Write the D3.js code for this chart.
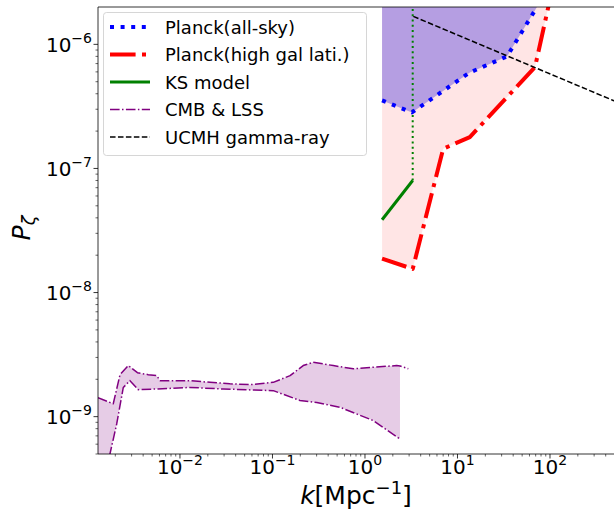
<!DOCTYPE html>
<html><head><meta charset="utf-8">
<script src="https://cdn.jsdelivr.net/npm/d3@7/dist/d3.min.js"></script>
<style>body{margin:0;background:#fff}svg{display:block;font-family:"DejaVu Sans",sans-serif}</style>
</head><body><svg id="c" width="614" height="512"></svg>
<script>
// ---- data (k in Mpc^-1, P_zeta) ----
const planckAllSkyK = [1.53, 3.22, 13.6, 34.3, 72.3, 100];
const planckAllSkyP = [3.53e-7, 2.83e-7, 5.94e-7, 8.0e-7, 2.0e-6, 4.5e-6];
const planckHighK = [1.53, 3.28, 7.0, 13.6, 68.9, 95.9, 110];
const planckHighP = [1.88e-8, 1.55e-8, 1.44e-7, 1.79e-7, 6.56e-7, 2.0e-6, 4.0e-6];
const ksK = [1.53, 3.28];
const ksP = [3.86e-8, 8.0e-8];
const ksBoundK = [3.28, 3.28];
const ksBoundP = [8.0e-8, 1e-5];
const ucmhK = [3.33, 483, 1000];
const ucmhP = [1.68e-6, 3.53e-7, 2.81e-7];
const cmbUpperK = [1.30e-3, 1.90e-3, 2.25e-3, 2.76e-3, 3.47e-3, 4.54e-3, 5.60e-3, 6.08e-3, 1.28e-2, 2.11e-2, 3.47e-2, 5.71e-2, 0.102, 0.155, 0.215, 0.276, 0.454, 0.748, 1.23, 2.20, 2.39, 2.94];
const cmbUpperP = [1.42e-9, 1.27e-9, 2.18e-9, 2.58e-9, 2.26e-9, 2.18e-9, 2.14e-9, 1.95e-9, 1.95e-9, 1.89e-9, 1.84e-9, 1.81e-9, 1.89e-9, 2.14e-9, 2.58e-9, 2.74e-9, 2.58e-9, 2.43e-9, 2.50e-9, 2.58e-9, 2.56e-9, 2.43e-9];
const cmbLowerK = [1.30e-3, 1.75e-3, 2.07e-3, 2.44e-3, 2.88e-3, 3.54e-3, 5.60e-3, 1.28e-2, 2.94e-2, 0.102, 0.198, 0.301, 0.537, 1.23, 2.39];
const cmbLowerP = [1.5e-10, 5.0e-10, 8.73e-10, 1.72e-9, 1.95e-9, 1.65e-9, 1.67e-9, 1.72e-9, 1.67e-9, 1.62e-9, 1.35e-9, 1.30e-9, 1.19e-9, 9.29e-10, 6.6e-10];
const xTickVals = [1e-2, 1e-1, 1, 10, 100];
const xTickExp = ["\u22122", "\u22121", "0", "1", "2"];
const yTickVals = [1e-9, 1e-8, 1e-7, 1e-6];
const yTickExp = ["\u22129", "\u22128", "\u22127", "\u22126"];
const legendLabels = ["Planck(all-sky)", "Planck(high gal lati.)", "KS model", "CMB & LSS", "UCMH gamma-ray"];
const fillTop = 1e-5;

const svg = d3.select("#c");
const L = 98, T = 7, B = 454;
const x = d3.scaleLog().domain([1.30e-3, 1000]).range([L, 642.5]);
const y = d3.scaleLog().domain([5e-10, 2e-6]).range([B, T]);

svg.append("defs").append("clipPath").attr("id","clip")
  .append("rect").attr("x",L).attr("y",T).attr("width",700).attr("height",B-T);
const g = svg.append("g").attr("clip-path","url(#clip)");
const zip = (ks, ps) => ks.map((k,i)=>[k, ps[i]]);
const line = d3.line().x(d=>x(d[0])).y(d=>y(d[1]));

// CMB & LSS fill
const kmaxLow = cmbLowerK[cmbLowerK.length-1];
const upFill = zip(cmbUpperK, cmbUpperP).filter(d=>d[0] <= kmaxLow);
const cmbPoly = upFill.concat(zip(cmbLowerK, cmbLowerP).reverse());
g.append("path").attr("d", line(cmbPoly)+"Z").attr("fill","purple").attr("fill-opacity",0.2);

// Planck high fill (pink)
const hi = zip(planckHighK, planckHighP);
const hiPoly = hi.concat([[hi[hi.length-1][0], fillTop],[hi[0][0], fillTop]]);
g.append("path").attr("d", line(hiPoly)+"Z").attr("fill","red").attr("fill-opacity",0.1);
// Planck all-sky fill (purple)
const al = zip(planckAllSkyK, planckAllSkyP);
const alPoly = al.concat([[al[al.length-1][0], fillTop],[al[0][0], fillTop]]);
g.append("path").attr("d", line(alPoly)+"Z").attr("fill","rgb(181,158,226)");

// lines
const drawLine = (data, color, w, dash) => g.append("path").attr("d", line(data))
  .attr("fill","none").attr("stroke",color).attr("stroke-width",w)
  .attr("stroke-dasharray", dash || null).attr("stroke-linejoin","round");
drawLine(zip(cmbUpperK, cmbUpperP), "purple", 1.5, "9.6,2.4,1.5,2.4");
drawLine(zip(cmbLowerK, cmbLowerP), "purple", 1.5, "9.6,2.4,1.5,2.4");
drawLine(zip(ksBoundK, ksBoundP), "green", 2, "2,3.3");
drawLine(zip(ksK, ksP), "green", 3);
drawLine(al, "blue", 4, "4,6.6");
drawLine(hi, "red", 4, "25.6,6.4,4,6.4");
drawLine(zip(ucmhK, ucmhP), "black", 1.5, "5.55,2.4");

// axes / spines
const ax = svg.append("g");
ax.append("line").attr("x1",L).attr("x2",L).attr("y1",T).attr("y2",B).attr("stroke","#000").attr("stroke-width",0.8);
ax.append("line").attr("x1",L).attr("x2",614).attr("y1",B).attr("y2",B).attr("stroke","#000").attr("stroke-width",0.8);
ax.append("line").attr("x1",L).attr("x2",614).attr("y1",T).attr("y2",T).attr("stroke","#000").attr("stroke-width",0.8);

const minorVals = (lo, hi) => { const r=[]; for(let e=lo;e<=hi;e++) for(let m=2;m<=9;m++) r.push(m*Math.pow(10,e)); return r; };
minorVals(-3, 2).filter(v=>v>=x.domain()[0] && x(v)<=614).forEach(v=>{
  ax.append("line").attr("x1",x(v)).attr("x2",x(v)).attr("y1",B).attr("y2",B+2.5).attr("stroke","#000").attr("stroke-width",0.6);
});
minorVals(-10, -7).filter(v=>v>=y.domain()[0] && v<=y.domain()[1]).forEach(v=>{
  ax.append("line").attr("y1",y(v)).attr("y2",y(v)).attr("x1",L).attr("x2",L-2.5).attr("stroke","#000").attr("stroke-width",0.6);
});
xTickVals.forEach((v,i)=>{
  ax.append("line").attr("x1",x(v)).attr("x2",x(v)).attr("y1",B).attr("y2",B+4.5).attr("stroke","#000").attr("stroke-width",0.8);
  const t = ax.append("text").attr("x",x(v)).attr("y",B+20).attr("text-anchor","middle").attr("font-size",20);
  t.append("tspan").text("10");
  t.append("tspan").attr("dy",-9).attr("font-size",14).text(xTickExp[i]);
});
yTickVals.forEach((v,i)=>{
  ax.append("line").attr("y1",y(v)).attr("y2",y(v)).attr("x1",L).attr("x2",L-4.5).attr("stroke","#000").attr("stroke-width",0.8);
  const t = ax.append("text").attr("x",L-6).attr("y",y(v)+7.5).attr("text-anchor","end").attr("font-size",20);
  t.append("tspan").text("10");
  t.append("tspan").attr("dy",-9).attr("font-size",14).text(yTickExp[i]);
});
// axis labels
const xl = svg.append("text").attr("x",356).attr("y",504).attr("text-anchor","middle").attr("font-size",25);
xl.append("tspan").attr("font-style","italic").text("k");
xl.append("tspan").text("[Mpc");
xl.append("tspan").attr("dy",-10).attr("font-size",18).text("\u22121");
xl.append("tspan").attr("dy",10).text("]");
const yl = svg.append("text").attr("transform","translate(30,228) rotate(-90)").attr("text-anchor","middle").attr("font-size",25);
yl.append("tspan").attr("font-style","italic").text("P");
yl.append("tspan").attr("dy",5).attr("font-size",18).attr("font-style","italic").text("\u03b6");

// legend
const lg = svg.append("g");
lg.append("rect").attr("x",103.5).attr("y",12.5).attr("width",263).attr("height",143).attr("rx",3)
  .attr("fill","#fff").attr("fill-opacity",0.8).attr("stroke","#ccc").attr("stroke-width",0.8);
const styles = [
  {c:"blue", w:4, d:"4,6.6"},
  {c:"red", w:4, d:"25.6,6.4,4,6.4"},
  {c:"green", w:3, d:null},
  {c:"purple", w:1.5, d:"9.6,2.4,1.5,2.4"},
  {c:"black", w:1.5, d:"5.55,2.4"}
];
legendLabels.forEach((lab,i)=>{
  const yy = 27 + i*27.5;
  lg.append("line").attr("x1",110).attr("x2",150).attr("y1",yy).attr("y2",yy)
    .attr("stroke",styles[i].c).attr("stroke-width",styles[i].w).attr("stroke-dasharray",styles[i].d);
  lg.append("text").attr("x",165).attr("y",yy+6.5).attr("font-size",18).text(lab);
});
</script></body></html>
